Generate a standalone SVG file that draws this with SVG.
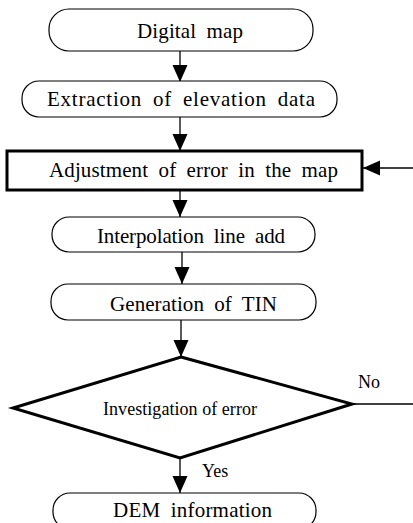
<svg xmlns="http://www.w3.org/2000/svg" width="413" height="523" viewBox="0 0 413 523">
  <style>
    .term { fill: #fff; stroke: #000; stroke-width: 1.2; }
    .bold { fill: #fff; stroke: #000; stroke-width: 3; }
    text { font-family: 'Liberation Serif', 'Times New Roman', serif; fill: #000; }
    .lbl { font-size: 21px; word-spacing: 5px; }
    .small { font-size: 18px; }
    .edge { fill: none; stroke: #000; stroke-width: 1.3; }
  </style>
  <defs>
    <marker id="arrow" markerUnits="userSpaceOnUse" markerWidth="18" markerHeight="18" viewBox="0 0 18 18" refX="17" refY="9" orient="auto">
      <path d="M0,1.5 L17,9 L0,16.5 Z" fill="#000"/>
    </marker>
  </defs>

  <rect width="413" height="523" fill="#fff"/>

  <!-- connectors -->
  <g id="connectors">
    <line class="edge" x1="180" y1="51" x2="180" y2="82" marker-end="url(#arrow)"/>
    <line class="edge" x1="180" y1="117" x2="180" y2="151" marker-end="url(#arrow)"/>
    <line class="edge" x1="180" y1="190" x2="180" y2="217" marker-end="url(#arrow)"/>
    <line class="edge" x1="182" y1="252" x2="182" y2="284" marker-end="url(#arrow)"/>
    <line class="edge" x1="181" y1="320" x2="181" y2="357" marker-end="url(#arrow)"/>
    <line class="edge" x1="180" y1="458" x2="180" y2="493" marker-end="url(#arrow)"/>
    <!-- "No" branch leaving to the right, and the return into the adjustment step -->
    <line class="edge" x1="352" y1="404" x2="413" y2="404"/>
    <line class="edge" x1="413" y1="168" x2="363" y2="168" marker-end="url(#arrow)"/>
    <text class="small" x="358" y="388">No</text>
    <text class="small" x="202" y="477" font-size="19">Yes</text>
  </g>

  <g id="digital-map">
    <rect class="term" x="49" y="9" width="264" height="42" rx="20" ry="20"/>
    <text class="lbl" x="137" y="38" textLength="106" lengthAdjust="spacing">Digital map</text>
  </g>

  <g id="extraction">
    <rect class="term" x="22" y="81" width="315" height="36" rx="17" ry="17"/>
    <text class="lbl" x="47" y="106" textLength="268" lengthAdjust="spacing">Extraction of elevation data</text>
  </g>

  <g id="adjustment">
    <rect class="bold" x="7" y="151" width="355" height="39"/>
    <text class="lbl" x="49" y="177" textLength="289" lengthAdjust="spacing">Adjustment of error in the map</text>
  </g>

  <g id="interpolation">
    <rect class="term" x="52" y="217" width="263" height="35" rx="17" ry="17"/>
    <text class="lbl" x="97" y="243" textLength="188" lengthAdjust="spacing">Interpolation line add</text>
  </g>

  <g id="tin">
    <rect class="term" x="51" y="284" width="265" height="36" rx="17" ry="17"/>
    <text class="lbl" x="110" y="311" textLength="167" lengthAdjust="spacing">Generation of TIN</text>
  </g>

  <g id="investigation">
    <polygon class="bold" points="181,357 352,404 180,458 13,408" stroke-width="3.5" stroke-linejoin="miter"/>
    <text class="small" x="103" y="415" font-size="17" textLength="154" lengthAdjust="spacing">Investigation of error</text>
  </g>

  <g id="dem">
    <rect class="term" x="53" y="493" width="263" height="36" rx="17" ry="17"/>
    <text class="lbl" x="113" y="517" textLength="159" lengthAdjust="spacing">DEM information</text>
  </g>
</svg>
